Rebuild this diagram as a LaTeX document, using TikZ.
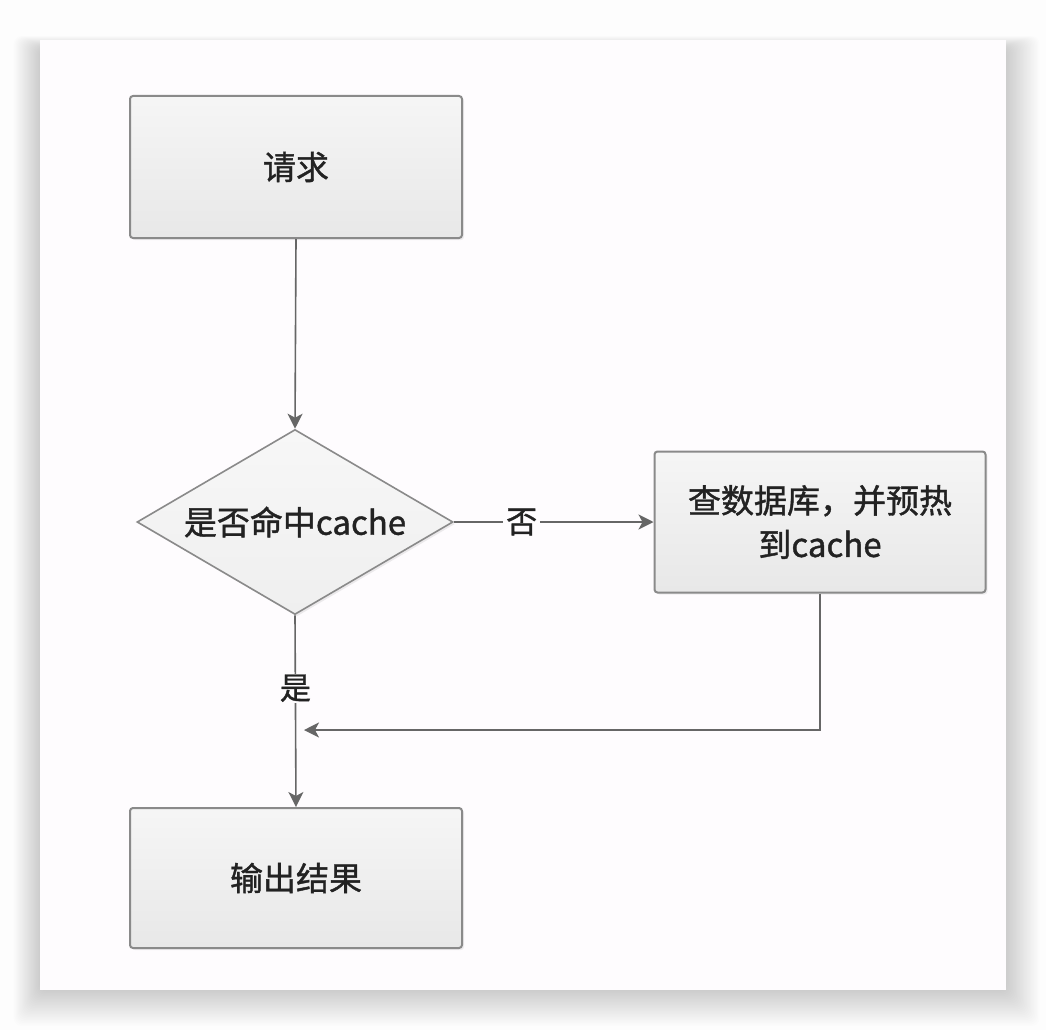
\documentclass[tikz,border=0pt]{standalone}
\usepackage{fontspec}
\newfontfamily\cjk{Noto Sans CJK SC}[FakeBold=1.2]
\usetikzlibrary{arrows.meta,shapes.geometric,positioning,shadows}
\definecolor{cardbg}{HTML}{FEFCFE}
\definecolor{pagebg}{HTML}{FDFDFD}
\definecolor{boxfill}{HTML}{EFEFEF}
\definecolor{boxline}{HTML}{8A8A8A}
\definecolor{conn}{HTML}{666666}
\definecolor{txt}{HTML}{222222}
\tikzset{
  x=1pt, y=-1pt,
  stepbox/.style={draw=boxline, line width=2pt, rounded corners=3pt,
    top color=boxfill!60!white, bottom color=boxfill!97!black,
    minimum width=332pt, minimum height=142pt, inner sep=0pt,
    font=\cjk\fontsize{33}{44}\selectfont, text=txt, align=center,
    drop shadow={shadow xshift=2pt, shadow yshift=-2pt, opacity=0.12}},
  decide/.style={draw=boxline, line width=1.6pt, shape=diamond, aspect=1.7,
    top color=boxfill!50!white, bottom color=boxfill,
    minimum width=316pt, minimum height=185pt, inner sep=0pt,
    font=\cjk\fontsize{33}{40}\selectfont, text=txt,
    drop shadow={shadow xshift=2pt, shadow yshift=-2pt, opacity=0.15}},
  conn/.style={draw=conn, line width=1.6pt,
    -{Stealth[length=15pt, width=15pt, inset=4pt]}},
  lbl/.style={font=\cjk\fontsize{31}{36}\selectfont, text=txt, fill=cardbg,
    inner sep=3pt},
}
\begin{document}
\begin{tikzpicture}
  \useasboundingbox (0,0) rectangle (1046,1030);
  \fill[pagebg] (0,0) rectangle (1046,1030);
  % card shadow
  \foreach \i in {1,...,24} {
    \fill[black, opacity=0.007, rounded corners=8pt]
      (40-\i*1.1, 40-\i*0.5+8) rectangle (1006+\i*1.4, 990+\i*1.5);
  }
  \fill[cardbg] (40,40) rectangle (1006,990);

  \node[stepbox] (req) at (296,167) {请求};
  \node[decide] (dec) at (295,522) {是否命中cache};
  \node[stepbox, minimum width=331pt, minimum height=141pt] (db) at (820,522)
    {查数据库，并预热\\到cache};
  \node[stepbox, minimum height=140pt] (out) at (296,878) {输出结果};
  \coordinate (join) at (304,730);

  \draw[conn] (req.south) -- (dec.north);
  \draw[conn] (dec.east) -- node[lbl, pos=0.34] (no) {否} (db.west);
  \draw[conn] (dec.south) -- node[lbl, pos=0.38, inner sep=1pt] (yes) {是} (out.north);
  \draw[conn] (db.south) |- (join);
\end{tikzpicture}
\end{document}
